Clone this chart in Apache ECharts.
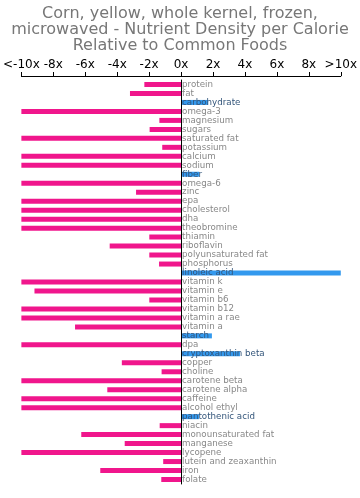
<!DOCTYPE html>
<html><head><meta charset="utf-8">
<script src="https://cdn.jsdelivr.net/npm/echarts@6/dist/echarts.min.js"></script>
<style>html,body{margin:0;padding:0;background:#fff}#c{width:360px;height:498px}</style>
</head><body><div id="c"></div>
<script>
var titleText = "Corn, yellow, whole kernel, frozen,\nmicrowaved - Nutrient Density per Calorie\nRelative to Common Foods";
var tickValues = [-10,-8,-6,-4,-2,0,2,4,6,8,10];
var tickLabels = ["<-10x","-8x","-6x","-4x","-2x","0x","2x","4x","6x","8x",">10x"];
var categories = ["protein","fat","carbohydrate","omega-3","magnesium","sugars","saturated fat","potassium","calcium","sodium","fiber","omega-6","zinc","epa","cholesterol","dha","theobromine","thiamin","riboflavin","polyunsaturated fat","phosphorus","linoleic acid","vitamin k","vitamin e","vitamin b6","vitamin b12","vitamin a rae","vitamin a","starch","dpa","cryptoxanthin beta","copper","choline","carotene beta","carotene alpha","caffeine","alcohol ethyl","pantothenic acid","niacin","monounsaturated fat","manganese","lycopene","lutein and zeaxanthin","iron","folate"];
var values = [-2.3,-3.2,1.7,-10,-1.36,-1.97,-10,-1.18,-10,-10,1.14,-10,-2.82,-10,-10,-10,-10,-1.99,-4.47,-1.99,-1.38,10,-10,-9.18,-1.99,-10,-10,-6.64,1.93,-10,3.69,-3.71,-1.22,-10,-4.62,-10,-10,1.12,-1.34,-6.25,-3.53,-10,-1.12,-5.06,-1.24];

var labelStyle = {show:true,fontFamily:'DejaVu Sans',fontSize:8.7,distance:1,
  formatter:function(p){return categories[p.dataIndex];}};
var barData = values.map(function(v){
  return {value:v,
    itemStyle:{color: v>=0 ? '#3399ee' : '#f0168c'},
    label:Object.assign({}, labelStyle, {position: v>=0 ? 'insideLeft' : 'right', offset: v>=0 ? [-4,0] : [0,0], color: v>=0 ? '#33557a' : '#888'})};
});

var chart = echarts.init(document.getElementById('c'), null, {renderer:'canvas'});
chart.setOption({
  animation:false,
  title:{text:titleText,left:'center',top:1,textStyle:{fontFamily:'DejaVu Sans',fontSize:16,fontWeight:'normal',color:'#777',lineHeight:16}},
  grid:{left:15.3,right:14.7,top:80,bottom:14,containLabel:false},
  xAxis:{type:'value',position:'top',min:-10,max:10,interval:2,offset:4,
    axisLine:{show:true,lineStyle:{color:'#000',width:1}},
    axisTick:{show:true,length:4,lineStyle:{color:'#000'}},
    splitLine:{show:false},
    axisLabel:{margin:5,fontFamily:'DejaVu Sans',fontSize:12,color:'#000',
      formatter:function(v){var i=tickValues.indexOf(v);return i>=0?tickLabels[i]:'';}}},
  yAxis:{type:'category',inverse:true,data:categories,
    axisLine:{show:true,onZero:true,lineStyle:{color:'#000',width:1}},
    axisTick:{show:false},
    splitLine:{show:false},
    axisLabel:{show:false},
    z:5},
  series:[{type:'bar',data:barData,barWidth:5,z:2,labelLayout:{hideOverlap:false}}]
});
</script></body></html>
